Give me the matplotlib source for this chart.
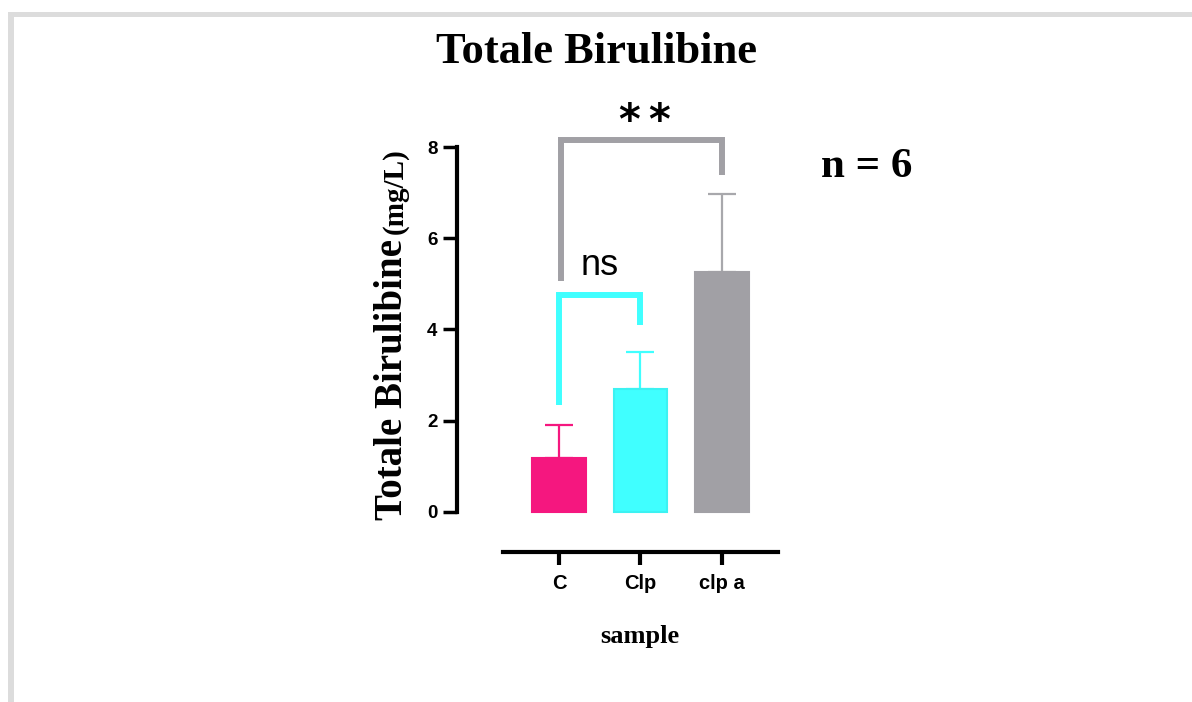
import matplotlib.pyplot as plt
from matplotlib.patches import Rectangle

# values
categories = ["C", "Clp", "clp a"]
means = [1.18, 2.70, 5.27]
sd = [0.72, 0.80, 1.70]
colors = ["#F5177F", "#40FFFF", "#A1A0A5"]
err_colors = ["#F5177F", "#40FFFF", "#A8A8AC"]
y_ticks = [0, 2, 4, 6, 8]
stars = "**"

W, H = 1192, 702
fig = plt.figure(figsize=(W / 100, H / 100), dpi=100)


def fx(px):
    return px / W


def fy(py):
    return 1 - py / H


# light gray frame on top and left edge
fig.add_artist(Rectangle((fx(8), fy(17)), fx(W), 5 / H, transform=fig.transFigure,
                         facecolor="#dcdcdc", edgecolor="none"))
fig.add_artist(Rectangle((fx(8), 0), 6 / W, fy(12), transform=fig.transFigure,
                         facecolor="#dcdcdc", edgecolor="none"))

ax = fig.add_axes([fx(457), fy(552), fx(778) - fx(457), fy(147) - fy(552)])
x = list(range(len(categories)))

ax.bar(x, means, width=0.66, color=colors, edgecolor=["#F5177F", "#3CF2F2", "#A1A0A5"],
       linewidth=1.5, zorder=2)
for i in x:
    ax.errorbar(i, means[i], yerr=[[0], [sd[i]]], fmt="none", ecolor=err_colors[i],
                elinewidth=1.6, capsize=10, capthick=1.6, zorder=1)

ax.set_xlim(-1.252, 2.69)
ax.set_ylim(-0.877, 8)

for s in ["top", "right"]:
    ax.spines[s].set_visible(False)
ax.spines["left"].set_bounds(0, 8)
ax.spines["bottom"].set_bounds(-0.687, 2.69)
ax.spines["left"].set_linewidth(3)
ax.spines["bottom"].set_linewidth(3)

ax.set_yticks(y_ticks)
ax.set_yticklabels([str(t) for t in y_ticks], fontfamily="Liberation Sans",
                   fontweight="bold", fontsize=13.5)
ax.set_xticks(x)
ax.set_xticklabels(categories, fontfamily="Liberation Sans", fontweight="bold", fontsize=14.5)
ax.tick_params(axis="y", length=10, width=2.5, pad=4)
ax.tick_params(axis="x", length=9, width=3, pad=7)

# significance brackets
lw = 4.3
ax.plot([0, 0, 1, 1], [2.34, 4.76, 4.76, 4.1], color="#40FFFF", lw=lw,
        solid_joinstyle="miter", solid_capstyle="butt", clip_on=False)
ax.text(0.5, 5.2, "ns", ha="center", va="baseline", fontsize=26,
        fontfamily="Liberation Sans")
ax.plot([0.03, 0.03, 2.0, 2.0], [5.07, 8.15, 8.15, 7.39], color="#A1A0A5", lw=lw,
        solid_joinstyle="miter", solid_capstyle="butt", clip_on=False)
for k, ch in enumerate(stars):
    ax.text(0.86 + 0.37 * k, 8.55, ch, ha="center", va="center", fontsize=30,
            fontfamily="DejaVu Sans", fontweight="bold", clip_on=False)

# titles and labels
serif = "Liberation Serif"
fig.text(fx(596), fy(52), "Totale Birulibine", ha="center", va="center",
         fontsize=32, fontfamily=serif, fontweight="bold")
fig.text(fx(640), fy(637), "sample", ha="center", va="center",
         fontsize=19, fontfamily=serif, fontweight="bold")
fig.text(fx(867), fy(167), "n = 6", ha="center", va="center",
         fontsize=31, fontfamily=serif, fontweight="bold")

yl = fig.text(fx(402), fy(520), "Totale Birulibine", rotation=90, rotation_mode="anchor",
              ha="left", va="baseline", fontsize=28, fontfamily=serif, fontweight="bold")
fig.canvas.draw()
bb = yl.get_window_extent(fig.canvas.get_renderer())
fig.text(fx(402), (bb.y1 + 5) / H, "(mg/L)", rotation=90, rotation_mode="anchor",
         ha="left", va="baseline", fontsize=21, fontfamily=serif, fontweight="bold")

fig.savefig("out.png", dpi=100)
